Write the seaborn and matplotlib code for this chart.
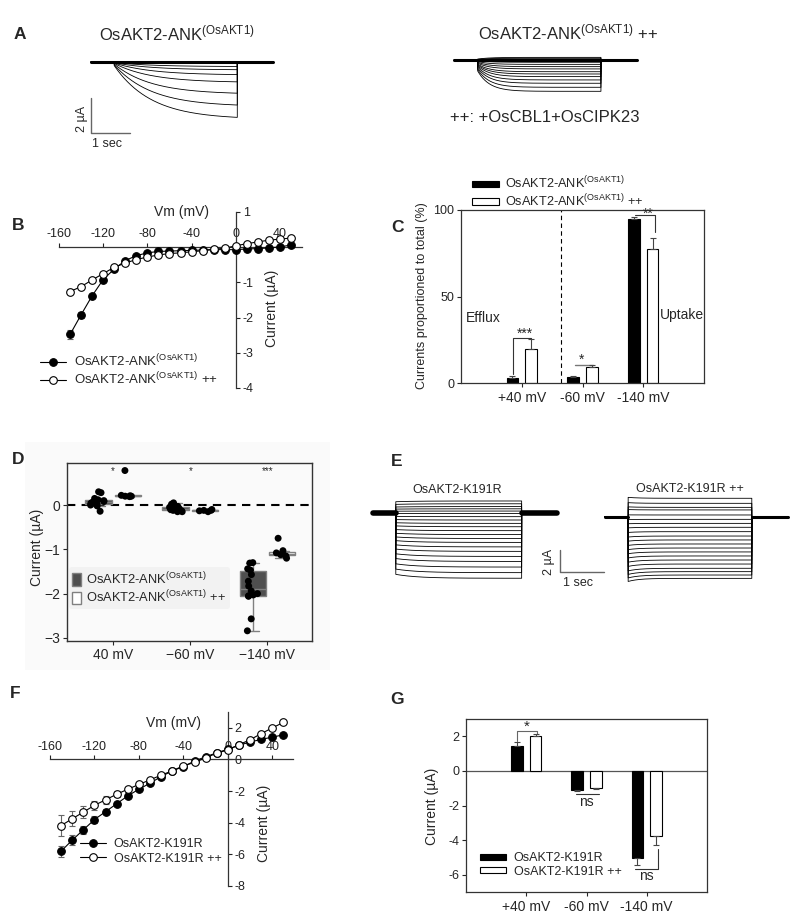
import numpy as np
import pandas as pd
import matplotlib
matplotlib.use("Agg")
import matplotlib.pyplot as plt
import seaborn as sns
from matplotlib.patches import Rectangle

sns.set_style("ticks")
plt.rcParams["font.family"] = ["Liberation Sans", "DejaVu Sans"]
plt.rcParams["mathtext.default"] = "regular"
plt.rcParams["axes.unicode_minus"] = False
np.random.seed(3)

# ---------------- data ----------------
LBL_ANK = r"OsAKT2-ANK$^{(OsAKT1)}$"
LBL_ANK_PP = r"OsAKT2-ANK$^{(OsAKT1)}$ ++"
LBL_K = "OsAKT2-K191R"
LBL_K_PP = "OsAKT2-K191R ++"

# A: steady-state current at end of each voltage step (uA)
a_left_levels = [0.05, 0.03, 0.0, -0.02, -0.06, -0.25, -0.44, -0.73, -1.16, -1.83, -2.53, -3.26]
a_right_levels = [0.15, 0.10, 0.05, -0.13, -0.25, -0.38, -0.51, -0.67, -0.80, -0.95, -1.14, -1.33, -1.56, -1.79]

# B: I-V curves
vm = [-150, -140, -130, -120, -110, -100, -90, -80, -70, -60, -50, -40, -30, -20, -10, 0, 10, 20, 30, 40, 50]
b_ank = [-2.48, -1.92, -1.38, -0.92, -0.62, -0.38, -0.24, -0.16, -0.12, -0.11, -0.10, -0.09, -0.08,
         -0.07, -0.07, -0.07, -0.05, -0.04, -0.02, 0.01, 0.06]
b_ank_err = [0.12, 0.08, 0.06, 0.05, 0.04, 0.03, 0.03, 0.03, 0.02, 0.02, 0.02, 0.02, 0.02, 0.02,
             0.02, 0.02, 0.02, 0.02, 0.02, 0.02, 0.02]
b_pp = [-1.26, -1.12, -0.93, -0.75, -0.57, -0.45, -0.35, -0.28, -0.22, -0.18, -0.16, -0.13, -0.10,
        -0.06, -0.03, 0.04, 0.10, 0.15, 0.20, 0.23, 0.26]
b_pp_err = [0.06, 0.05, 0.05, 0.04, 0.04, 0.03, 0.03, 0.03, 0.02, 0.02, 0.02, 0.02, 0.02, 0.02,
            0.02, 0.02, 0.02, 0.02, 0.02, 0.02, 0.02]

# C: currents proportioned to total (%)
c_conds = ["+40 mV", "-60 mV", "-140 mV"]
c_ank = [2.9, 3.3, 94.6]
c_ank_err = [1.0, 0.6, 1.6]
c_pp = [19.6, 9.4, 77.3]
c_pp_err = [6.0, 0.8, 6.7]

# D: individual oocyte currents (uA)
d_conds = ["40 mV", "\u221260 mV", "\u2212140 mV"]
d_ank_40 = [0.30, 0.28, 0.15, 0.12, 0.10, 0.08, 0.06, 0.05, 0.04, 0.02, 0.0, -0.02, -0.14]
d_pp_40 = [0.20, 0.20, 0.21, 0.22, 0.19, 0.78]
d_ank_60 = [0.05, 0.02, -0.03, -0.05, -0.05, -0.07, -0.08, -0.10, -0.10, -0.12, -0.13, -0.15, -0.15]
d_pp_60 = [-0.10, -0.12, -0.12, -0.13, -0.15]
d_ank_140 = [-1.30, -1.31, -1.44, -1.47, -1.57, -1.72, -1.83, -1.94, -2.00, -2.03, -2.05, -2.06, -2.57, -2.84]
d_pp_140 = [-0.75, -1.03, -1.08, -1.10, -1.12, -1.15, -1.20]

# E: steady-state current for each step (uA)
e_left_levels = [1.10, 0.85, 0.60, 0.40, 0.20, 0.0, -0.30, -0.60, -0.90, -1.20, -1.55, -1.90, -2.25,
                 -2.60, -3.00, -3.40, -3.85, -4.30, -4.80, -5.30, -5.80]
e_right_levels = [1.64, 1.19, 0.83, 0.60, 0.15, -0.24, -0.60, -0.95, -1.34, -1.73, -2.08, -2.44, -2.80,
                  -3.15, -3.51, -3.87, -4.23, -4.61, -4.91, -5.21, -5.51]

# F: I-V curves K191R
f_k = [-5.80, -5.10, -4.45, -3.80, -3.30, -2.80, -2.30, -1.88, -1.50, -1.08, -0.72, -0.45, -0.10,
       0.17, 0.42, 0.65, 0.90, 1.10, 1.27, 1.41, 1.56]
f_k_err = [0.35, 0.30, 0.25, 0.20, 0.15, 0.12, 0.10, 0.08, 0.08, 0.06, 0.06, 0.05, 0.05, 0.05, 0.05,
           0.05, 0.05, 0.05, 0.06, 0.06, 0.06]
f_pp = [-4.18, -3.75, -3.33, -2.90, -2.55, -2.20, -1.88, -1.58, -1.29, -0.99, -0.72, -0.40, -0.19,
        0.10, 0.40, 0.60, 0.93, 1.25, 1.63, 2.00, 2.34]
f_pp_err = [0.65, 0.48, 0.38, 0.30, 0.25, 0.20, 0.15, 0.12, 0.10, 0.08, 0.07, 0.06, 0.05, 0.05, 0.05,
            0.05, 0.05, 0.06, 0.06, 0.07, 0.07]

# G: mean currents K191R
g_conds = ["+40 mV", "-60 mV", "-140 mV"]
g_k = [1.42, -1.08, -5.06]
g_k_err = [0.25, 0.07, 0.38]
g_pp = [2.02, -0.98, -3.75]
g_pp_err = [0.10, 0.08, 0.54]

# ---------------- layout helpers ----------------
W, H = 800, 924
fig = plt.figure(figsize=(W / 100, H / 100), dpi=100)

# faint backdrop behind panel D (drawn beneath all axes)
fig.patches.append(Rectangle((25 / W, 1 - 670 / H), 305 / W, 228 / H, transform=fig.transFigure,
                             facecolor="#fafafa", edgecolor="none", zorder=-5))


def add_ax(x0, y0, x1, y1):
    return fig.add_axes([x0 / W, 1 - y1 / H, (x1 - x0) / W, (y1 - y0) / H])


def ftext(x, y, s, **kw):
    kw.setdefault("ha", "center")
    kw.setdefault("va", "center")
    fig.text(x / W, 1 - y / H, s, **kw)


def pulse_trace(t0, ton, toff, t1, level, tau, inst, n=300):
    tp = np.linspace(ton, toff, n)
    yp = level * (inst + (1 - inst) * (1 - np.exp(-(tp - ton) / tau)))
    t = np.concatenate([[t0, ton], tp, [toff, t1]])
    y = np.concatenate([[0, 0], yp, [0, 0]])
    return t, y


def panel_letter(x, y, s):
    ftext(x, y, s, fontsize=12.5, fontweight="bold")


# ---------------- Panel A ----------------
axA1 = add_ax(85, 50, 285, 150)
axA1.set_xlim(0, 200 / 39)
axA1.set_ylim(0.70 - 100 / 17.5, 0.70)
axA1.axis("off")
for lv in a_left_levels:
    t, y = pulse_trace(0.146, 0.75, 3.905, 4.83, lv, 0.95, 0.06)
    axA1.plot(t, y, color="black", lw=0.6)
axA1.plot([0.146, 4.83], [0, 0], color="black", lw=2.2)
axA1.plot([0.146, 0.146, 1.146], [-2.04, -4.04, -4.04], color="#666666", lw=1)

axA2 = add_ax(450, 50, 650, 150)
axA2.set_xlim(0, 200 / 39)
axA2.set_ylim(0.571 - 100 / 17.5, 0.571)
axA2.axis("off")
for lv in a_right_levels:
    t, y = pulse_trace(0.11, 0.71, 3.87, 4.80, lv, 0.3, 0.35)
    axA2.plot(t, y, color="black", lw=0.6)
axA2.plot([0.11, 4.80], [0, 0], color="black", lw=2.2)

panel_letter(19.5, 34.5, "A")
fig.text(99 / W, 1 - 40 / H, LBL_ANK, fontsize=12, ha="left", va="baseline")
fig.text(478 / W, 1 - 39 / H, LBL_ANK_PP, fontsize=12, ha="left", va="baseline")
fig.text(450 / W, 1 - 122 / H, "++: +OsCBL1+OsCIPK23", fontsize=12, ha="left", va="baseline")
ftext(82, 118.5, "2 \u00b5A", fontsize=9, rotation=90)
ftext(107.5, 144, "1 sec", fontsize=9)


# ---------------- I-V panels (B, F) ----------------
def iv_axes(ax, xlim, ylim, yticks):
    ax.set_xlim(*xlim)
    ax.set_ylim(*ylim)
    ax.spines["left"].set_visible(False)
    ax.spines["bottom"].set_visible(False)
    ax.spines["top"].set_position(("data", 0))
    ax.spines["right"].set_position(("data", 0))
    for s in ("top", "right"):
        ax.spines[s].set_color("#333333")
        ax.spines[s].set_linewidth(0.9)
    ax.xaxis.set_ticks_position("top")
    ax.yaxis.set_ticks_position("right")
    ax.set_xticks([-160, -120, -80, -40, 0, 40])
    ax.set_yticks(yticks)
    ax.tick_params(labelsize=9, length=3, width=0.8, pad=2, colors="#222222")
    ax.set_xlabel("")
    ax.set_ylabel("")
    ax.patch.set_visible(False)


def iv_series(ax, x, y, err, face, label):
    ax.errorbar(x, y, yerr=err, fmt="none", ecolor="#666666", elinewidth=0.8, capsize=2,
                capthick=0.8, zorder=2)
    sns.lineplot(x=x, y=y, ax=ax, color="black", lw=0.8, marker="o", markersize=5.5,
                 markerfacecolor=face, markeredgecolor="black", markeredgewidth=0.8,
                 label=label, zorder=3)


axB = add_ax(59, 212, 302, 388)
iv_series(axB, vm, b_ank, b_ank_err, "black", LBL_ANK)
iv_series(axB, vm, b_pp, b_pp_err, "white", LBL_ANK_PP)
iv_axes(axB, (-160, 60), (-4, 1), [1, -1, -2, -3, -4])
axB.legend(loc="center left", bbox_to_anchor=(40 / W, 1 - 370 / H), bbox_transform=fig.transFigure,
           frameon=False, fontsize=9.5, handlelength=2.0, handletextpad=0.6, labelspacing=0.1,
           borderpad=0, borderaxespad=0)
panel_letter(18, 226, "B")
ftext(181, 212, "Vm (mV)", fontsize=10)
ftext(272, 308, "Current (\u00b5A)", fontsize=10, rotation=90)

axF = add_ax(50, 712, 293, 886)
iv_series(axF, vm, f_k, f_k_err, "black", LBL_K)
iv_series(axF, vm, f_pp, f_pp_err, "white", LBL_K_PP)
iv_axes(axF, (-160, 58.6), (-8, 3), [2, 0, -2, -4, -6, -8])
axF.legend(loc="center left", bbox_to_anchor=(80 / W, 1 - 851.5 / H), bbox_transform=fig.transFigure,
           frameon=False, fontsize=9, handlelength=2.1, handletextpad=0.6, labelspacing=0.2,
           borderpad=0, borderaxespad=0)
panel_letter(15, 694, "F")
ftext(173, 723, "Vm (mV)", fontsize=10)
ftext(264, 823, "Current (\u00b5A)", fontsize=10, rotation=90)


# ---------------- bar panels (C, G) ----------------
def bar_panel(ax, conds, v0, v1, e0, e1, l0, l1, outward):
    df = pd.DataFrame({"cond": conds * 2, "grp": [l0] * len(conds) + [l1] * len(conds),
                       "val": list(v0) + list(v1)})
    sns.barplot(data=df, x="cond", y="val", hue="grp", hue_order=[l0, l1], palette=["black", "white"],
                edgecolor="black", linewidth=0.8, width=0.62, gap=0.39, errorbar=None,
                ax=ax, legend=True, zorder=2)
    for cont, errs in zip(ax.containers, [e0, e1]):
        bars = sorted(cont.patches, key=lambda p: p.get_x())
        for p, e in zip(bars, errs):
            xc = p.get_x() + p.get_width() / 2
            val = p.get_y() + p.get_height()
            if outward and val < 0:
                yerr = [[e], [0]]
            else:
                yerr = [[0], [e]]
            ax.errorbar([xc], [val], yerr=yerr, fmt="none", ecolor="#444444", elinewidth=0.8,
                        capsize=2.5, capthick=0.8, zorder=3)
    ax.set_xlim(-1, 3)
    ax.set_xlabel("")
    ax.set_ylabel("")
    for s in ax.spines.values():
        s.set_visible(True)
        s.set_color("#333333")
        s.set_linewidth(0.9)
    ax.tick_params(axis="y", labelsize=9, length=3, width=0.8, pad=2)
    ax.tick_params(axis="x", labelsize=10, length=3, width=0.8, pad=3)


axC = add_ax(461, 210, 704, 383)
bar_panel(axC, c_conds, c_ank, c_pp, c_ank_err, c_pp_err, LBL_ANK, LBL_ANK_PP, False)
axC.set_ylim(0, 100)
axC.set_yticks([0, 50, 100])
axC.plot([0.64, 0.64], [0, 100], color="black", lw=0.8, ls=(0, (4, 3)), zorder=1)
# significance marks
axC.plot([-0.14, -0.14, 0.16, 0.16], [5, 26, 26, 25.6], color="#333333", lw=0.8)
axC.text(0.05, 28.5, "***", ha="center", va="center", fontsize=10)
axC.plot([0.87, 1.18], [10.6, 10.6], color="#777777", lw=1)
axC.text(0.98, 13.3, "*", ha="center", va="center", fontsize=10)
axC.plot([1.87, 2.2, 2.2], [97, 97, 87.5], color="#333333", lw=0.8)
axC.text(2.08, 98, "**", ha="center", va="center", fontsize=10)
h, l = axC.get_legend_handles_labels()
axC.legend(h, l, loc="center left", bbox_to_anchor=(472 / W, 1 - 192 / H), bbox_transform=fig.transFigure,
           frameon=False, fontsize=9.2, handlelength=2.1, handleheight=0.4, handletextpad=0.5,
           labelspacing=0.1, borderpad=0, borderaxespad=0)
panel_letter(398, 227, "C")
ftext(422, 296, "Currents proportioned to total (%)", fontsize=9, rotation=90)
ftext(483, 318, "Efflux", fontsize=10)
ftext(682, 315, "Uptake", fontsize=10)

axG = add_ax(466, 719, 707, 892)
bar_panel(axG, g_conds, g_k, g_pp, g_k_err, g_pp_err, LBL_K, LBL_K_PP, True)
axG.set_ylim(-7, 3)
axG.set_yticks([2, 0, -2, -4, -6])
axG.axhline(0, color="#555555", lw=0.9, zorder=1)
axG.plot([-0.16, -0.16, 0.18, 0.18], [1.72, 2.3, 2.3, 2.15], color="#666666", lw=0.8)
axG.text(0.01, 2.55, "*", ha="center", va="center", fontsize=11)
axG.plot([0.82, 1.21], [-1.34, -1.34], color="#333333", lw=0.8)
axG.text(1.0, -1.78, "ns", ha="center", va="center", fontsize=10)
axG.plot([2.19, 2.19, 1.8], [-4.52, -5.65, -5.65], color="#333333", lw=0.8)
axG.text(2.0, -6.05, "ns", ha="center", va="center", fontsize=10)
h, l = axG.get_legend_handles_labels()
axG.legend(h, l, loc="center left", bbox_to_anchor=(480 / W, 1 - 865 / H), bbox_transform=fig.transFigure,
           frameon=False, fontsize=9, handlelength=2.1, handleheight=0.4, handletextpad=0.6,
           labelspacing=0.1, borderpad=0, borderaxespad=0)
panel_letter(397, 700, "G")
ftext(432, 806, "Current (\u00b5A)", fontsize=10, rotation=90)

# ---------------- Panel D ----------------
rows = []
for cond, (a, b) in zip(d_conds, [(d_ank_40, d_pp_40), (d_ank_60, d_pp_60), (d_ank_140, d_pp_140)]):
    rows += [(cond, LBL_ANK, v) for v in a]
    rows += [(cond, LBL_ANK_PP, v) for v in b]
df_d = pd.DataFrame(rows, columns=["cond", "grp", "val"])

axD = add_ax(67, 463, 312, 641)
axD.patch.set_visible(False)
sns.boxplot(data=df_d, x="cond", y="val", hue="grp", order=d_conds, hue_order=[LBL_ANK, LBL_ANK_PP],
            palette=["#4f4f4f", "white"], linecolor="#808080", linewidth=1, width=0.76, gap=0.1,
            showfliers=False, ax=axD, legend=True)
sns.stripplot(data=df_d, x="cond", y="val", hue="grp", order=d_conds, hue_order=[LBL_ANK, LBL_ANK_PP],
              palette=["black", "black"], dodge=True, size=5, jitter=0.2, ax=axD, legend=False,
              zorder=4)
axD.axhline(0, color="black", lw=1.5, ls=(0, (4, 3)), zorder=1)
axD.set_xlim(-0.6, 2.58)
axD.set_ylim(-3.07, 0.95)
axD.set_yticks([0, -1, -2, -3])
axD.set_yticklabels(["0", "\u22121", "\u22122", "\u22123"])
axD.set_xlabel("")
axD.set_ylabel("")
for s in axD.spines.values():
    s.set_visible(True)
    s.set_color("#333333")
    s.set_linewidth(1)
axD.tick_params(labelsize=10, length=3, width=0.8, pad=2)
for i, s in enumerate(["*", "*", "***"]):
    axD.text(i, 0.77, s, ha="center", va="center", fontsize=7)
h, l = axD.get_legend_handles_labels()
axD.legend(h, l, loc="center left", bbox_to_anchor=(69 / W, 1 - 588 / H), bbox_transform=fig.transFigure,
           frameon=True, facecolor="#f2f2f2", edgecolor="none", framealpha=1, fontsize=9.3,
           handlelength=0.7, handleheight=1.1, handletextpad=0.4, labelspacing=0.15,
           borderpad=0.25, borderaxespad=0)
panel_letter(18, 460, "D")
ftext(37.5, 547, "Current (\u00b5A)", fontsize=10, rotation=90)

# ---------------- Panel E ----------------
axE1 = add_ax(365, 490, 615, 590)
axE1.set_xlim(0, 250 / 44)
axE1.set_ylim(2.08 - 100 / 11.2, 2.08)
axE1.axis("off")
for lv in e_left_levels:
    t, y = pulse_trace(0.18, 0.70, 3.56, 4.36, lv, 0.5, 0.94)
    axE1.plot(t, y, color="black", lw=0.6)
axE1.plot([0.18, 0.70], [0, 0], color="black", lw=4)
axE1.plot([3.56, 4.36], [0, 0], color="black", lw=4)
axE1.plot([4.43, 4.43, 5.43], [-3.28, -5.27, -5.27], color="#666666", lw=1)

axE2 = add_ax(600, 490, 800, 590)
axE2.set_xlim(0, 200 / 44)
axE2.set_ylim(2.38 - 100 / 11.2, 2.38)
axE2.axis("off")
for lv in e_right_levels:
    t, y = pulse_trace(0.11, 0.64, 3.45, 4.28, lv, 0.25, 1.05)
    axE2.plot(t, y, color="black", lw=0.6)
axE2.plot([0.11, 0.64], [0, 0], color="black", lw=2.2)
axE2.plot([3.45, 4.28], [0, 0], color="black", lw=2.2)

panel_letter(397, 462, "E")
ftext(457, 490, LBL_K, fontsize=9)
ftext(690, 489, LBL_K_PP, fontsize=9)
ftext(549, 562, "2 \u00b5A", fontsize=9, rotation=90)
ftext(578, 583, "1 sec", fontsize=9)

fig.savefig("out.png", dpi=100)
